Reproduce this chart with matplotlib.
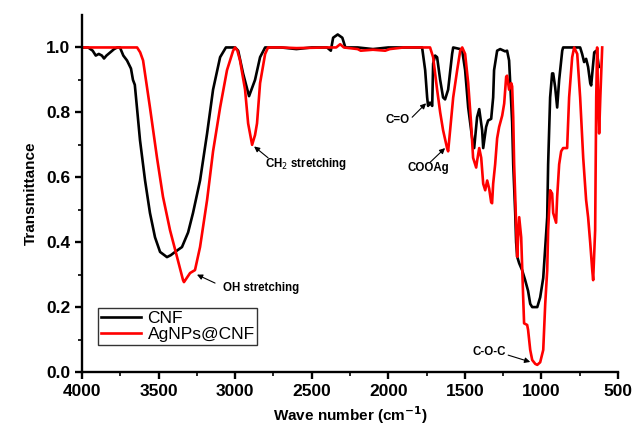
import numpy as np
import matplotlib.pyplot as plt

plt.rcParams['font.family'] = ['Liberation Sans', 'DejaVu Sans']

# CNF spectrum (wavenumber, transmittance)
cnf_wn = [4000, 3960, 3930, 3910, 3890, 3870, 3856, 3840, 3815, 3790, 3770, 3752,
          3730, 3706, 3680, 3667, 3655, 3641, 3621, 3588, 3556, 3523, 3490, 3445,
          3420, 3392, 3347, 3307, 3275, 3229, 3183, 3144, 3098, 3060, 3000, 2980,
          2948, 2909, 2870, 2837, 2804, 2700, 2600, 2500, 2400, 2375, 2360, 2330,
          2300, 2280, 2200, 2100, 2000, 1900, 1800, 1779, 1759, 1746, 1740, 1727,
          1713, 1707, 1694, 1681, 1661, 1642, 1629, 1609, 1583, 1576, 1530, 1517,
          1498, 1478, 1452, 1439, 1420, 1406, 1387, 1380, 1361, 1348, 1328, 1315,
          1309, 1289, 1269, 1237, 1224, 1211, 1191, 1184, 1171, 1165, 1158, 1145,
          1126, 1106, 1087, 1073, 1060, 1027, 1008, 988, 962, 956, 943, 930,
          923, 910, 897, 884, 864, 858, 747, 734, 721, 708, 695, 681,
          675, 662, 655, 642, 636, 625]
cnf_t = [1.0, 1.0, 0.99, 0.975, 0.98, 0.975, 0.966, 0.975, 0.985, 0.995, 1.0, 1.0,
         0.975, 0.96, 0.935, 0.90, 0.885, 0.815, 0.714, 0.59, 0.49, 0.415, 0.37, 0.354,
         0.36, 0.37, 0.385, 0.43, 0.49, 0.59, 0.735, 0.87, 0.97, 1.0, 1.0, 0.99,
         0.92, 0.85, 0.90, 0.97, 1.0, 1.0, 0.995, 1.0, 1.0, 0.99, 1.03, 1.04,
         1.03, 1.0, 1.0, 0.995, 1.0, 1.0, 1.0, 1.0, 0.93, 0.846, 0.82, 0.83,
         0.82, 0.95, 0.975, 0.97, 0.9, 0.846, 0.84, 0.87, 0.98, 1.0, 0.995, 0.99,
         0.93, 0.815, 0.72, 0.69, 0.785, 0.81, 0.745, 0.69, 0.755, 0.775, 0.78, 0.846,
         0.93, 0.99, 0.995, 0.988, 0.99, 0.96, 0.77, 0.64, 0.49, 0.40, 0.355, 0.335,
         0.314, 0.283, 0.25, 0.21, 0.2, 0.2, 0.23, 0.29, 0.477, 0.64, 0.846, 0.92,
         0.92, 0.877, 0.815, 0.9, 0.99, 1.0, 1.0, 0.98, 0.955, 0.965, 0.94, 0.89,
         0.883, 0.95, 0.985, 0.99, 0.98, 0.94]

# AgNPs@CNF spectrum
ag_wn = [4000, 3640, 3620, 3601, 3556, 3510, 3471, 3425, 3379, 3340, 3334, 3294,
         3262, 3229, 3183, 3144, 3098, 3053, 3013, 3000, 2985, 2968, 2935, 2915,
         2889, 2870, 2857, 2837, 2804, 2785, 2700, 2600, 2400, 2340, 2314, 2290,
         2200, 2180, 2100, 2020, 1990, 1900, 1740, 1727, 1707, 1681, 1661, 1642,
         1616, 1609, 1596, 1576, 1550, 1530, 1517, 1498, 1478, 1459, 1446, 1426,
         1420, 1406, 1393, 1380, 1367, 1354, 1341, 1328, 1322, 1315, 1302, 1289,
         1276, 1256, 1243, 1230, 1224, 1211, 1197, 1191, 1184, 1178, 1171, 1158,
         1152, 1145, 1132, 1119, 1113, 1093, 1087, 1073, 1060, 1040, 1027, 1008,
         988, 975, 962, 956, 943, 930, 923, 904, 897, 884, 871, 858,
         832, 819, 799, 786, 766, 747, 727, 708, 695, 681, 668, 662,
         649, 642, 636, 630, 623, 615, 603]
ag_t = [1.0, 1.0, 0.985, 0.96, 0.815, 0.66, 0.54, 0.437, 0.354, 0.283, 0.277, 0.305,
        0.314, 0.385, 0.53, 0.68, 0.815, 0.93, 0.99, 1.0, 0.99, 0.96, 0.87, 0.766,
        0.70, 0.73, 0.766, 0.89, 0.98, 1.0, 1.0, 0.998, 1.0, 1.0, 1.01, 1.0,
        0.995, 0.99, 0.993, 0.99, 0.995, 1.0, 1.0, 1.0, 0.97, 0.87, 0.8, 0.745,
        0.69, 0.68, 0.745, 0.846, 0.93, 0.99, 1.0, 0.98, 0.89, 0.766, 0.66, 0.63,
        0.65, 0.69, 0.66, 0.58, 0.56, 0.59, 0.565, 0.523, 0.52, 0.58, 0.64, 0.72,
        0.755, 0.79, 0.827, 0.91, 0.913, 0.87, 0.89, 0.88, 0.785, 0.64, 0.54, 0.355,
        0.415, 0.477, 0.415, 0.23, 0.15, 0.145, 0.13, 0.068, 0.037, 0.025, 0.022, 0.03,
        0.068, 0.21, 0.314, 0.437, 0.56, 0.55, 0.49, 0.46, 0.54, 0.64, 0.68, 0.69,
        0.69, 0.846, 0.97, 1.0, 0.98, 0.846, 0.66, 0.53, 0.477, 0.397, 0.314, 0.283,
        0.437, 0.846, 1.0, 0.85, 0.735, 0.85, 1.0]

series_names = ['CNF', 'AgNPs@CNF']

# annotation text, text position, arrow tail, arrow head
notes = [('OH stretching', (3079, 0.26), (3131, 0.274), (3249, 0.30)),
         ('CH$_2$ stretching', (2804, 0.64), (2785, 0.66), (2876, 0.695)),
         ('C=O', (2021, 0.775), (1844, 0.785), (1753, 0.828)),
         ('COOAg', (1877, 0.628), (1727, 0.646), (1629, 0.69)),
         ('C-O-C', (1452, 0.062), (1217, 0.052), (1073, 0.031))]

fig = plt.figure(figsize=(6.32, 4.25), dpi=100)
ax = fig.add_axes([0.1297, 0.1247, 0.8481, 0.84])

ax.plot(cnf_wn, cnf_t, color='black', lw=1.9, label=series_names[0])
ax.plot(ag_wn, ag_t, color='#ff0000', lw=1.9, label=series_names[1])

ax.set_xlim(4000, 500)
ax.set_ylim(0, 1.1)
ax.set_xticks(np.arange(4000, 499, -500))
ax.set_xticks(np.arange(3750, 500, -500), minor=True)
ax.set_yticks(np.arange(0, 1.01, 0.2))
ax.set_yticks([0.1, 0.3, 0.5, 0.7, 0.9], minor=True)
ax.yaxis.set_major_formatter(plt.FormatStrFormatter('%.1f'))

for s in ['top', 'right']:
    ax.spines[s].set_visible(False)
for s in ['left', 'bottom']:
    ax.spines[s].set_linewidth(1.7)
ax.tick_params(which='major', direction='out', length=5, width=1.7, labelsize=12.5)
ax.tick_params(which='minor', direction='out', length=3, width=1.2)
for lab in ax.get_xticklabels() + ax.get_yticklabels():
    lab.set_fontweight('bold')

ax.set_xlabel('Wave number (cm$^{\\mathbf{-1}}$)', fontsize=11, fontweight='bold', labelpad=4)
ax.set_ylabel('Transmittance', fontsize=11, fontweight='bold', labelpad=6)

for txt, xy_text, tail, head in notes:
    ax.text(xy_text[0], xy_text[1], txt, fontsize=8.3, fontweight='bold',
            ha='left', va='center')
    ax.annotate('', xy=head, xytext=tail,
                arrowprops=dict(arrowstyle='-|>', color='black', lw=0.8,
                                mutation_scale=8, shrinkA=0, shrinkB=0))

leg = ax.legend(loc='lower left', bbox_to_anchor=(0.03, 0.076), borderaxespad=0,
                fontsize=12.5, frameon=True, fancybox=False, edgecolor='black',
                handlelength=2.3, handletextpad=0.4, labelspacing=0.05,
                borderpad=0.15)
leg.get_frame().set_linewidth(1.0)

plt.savefig('out.png', dpi=100)
